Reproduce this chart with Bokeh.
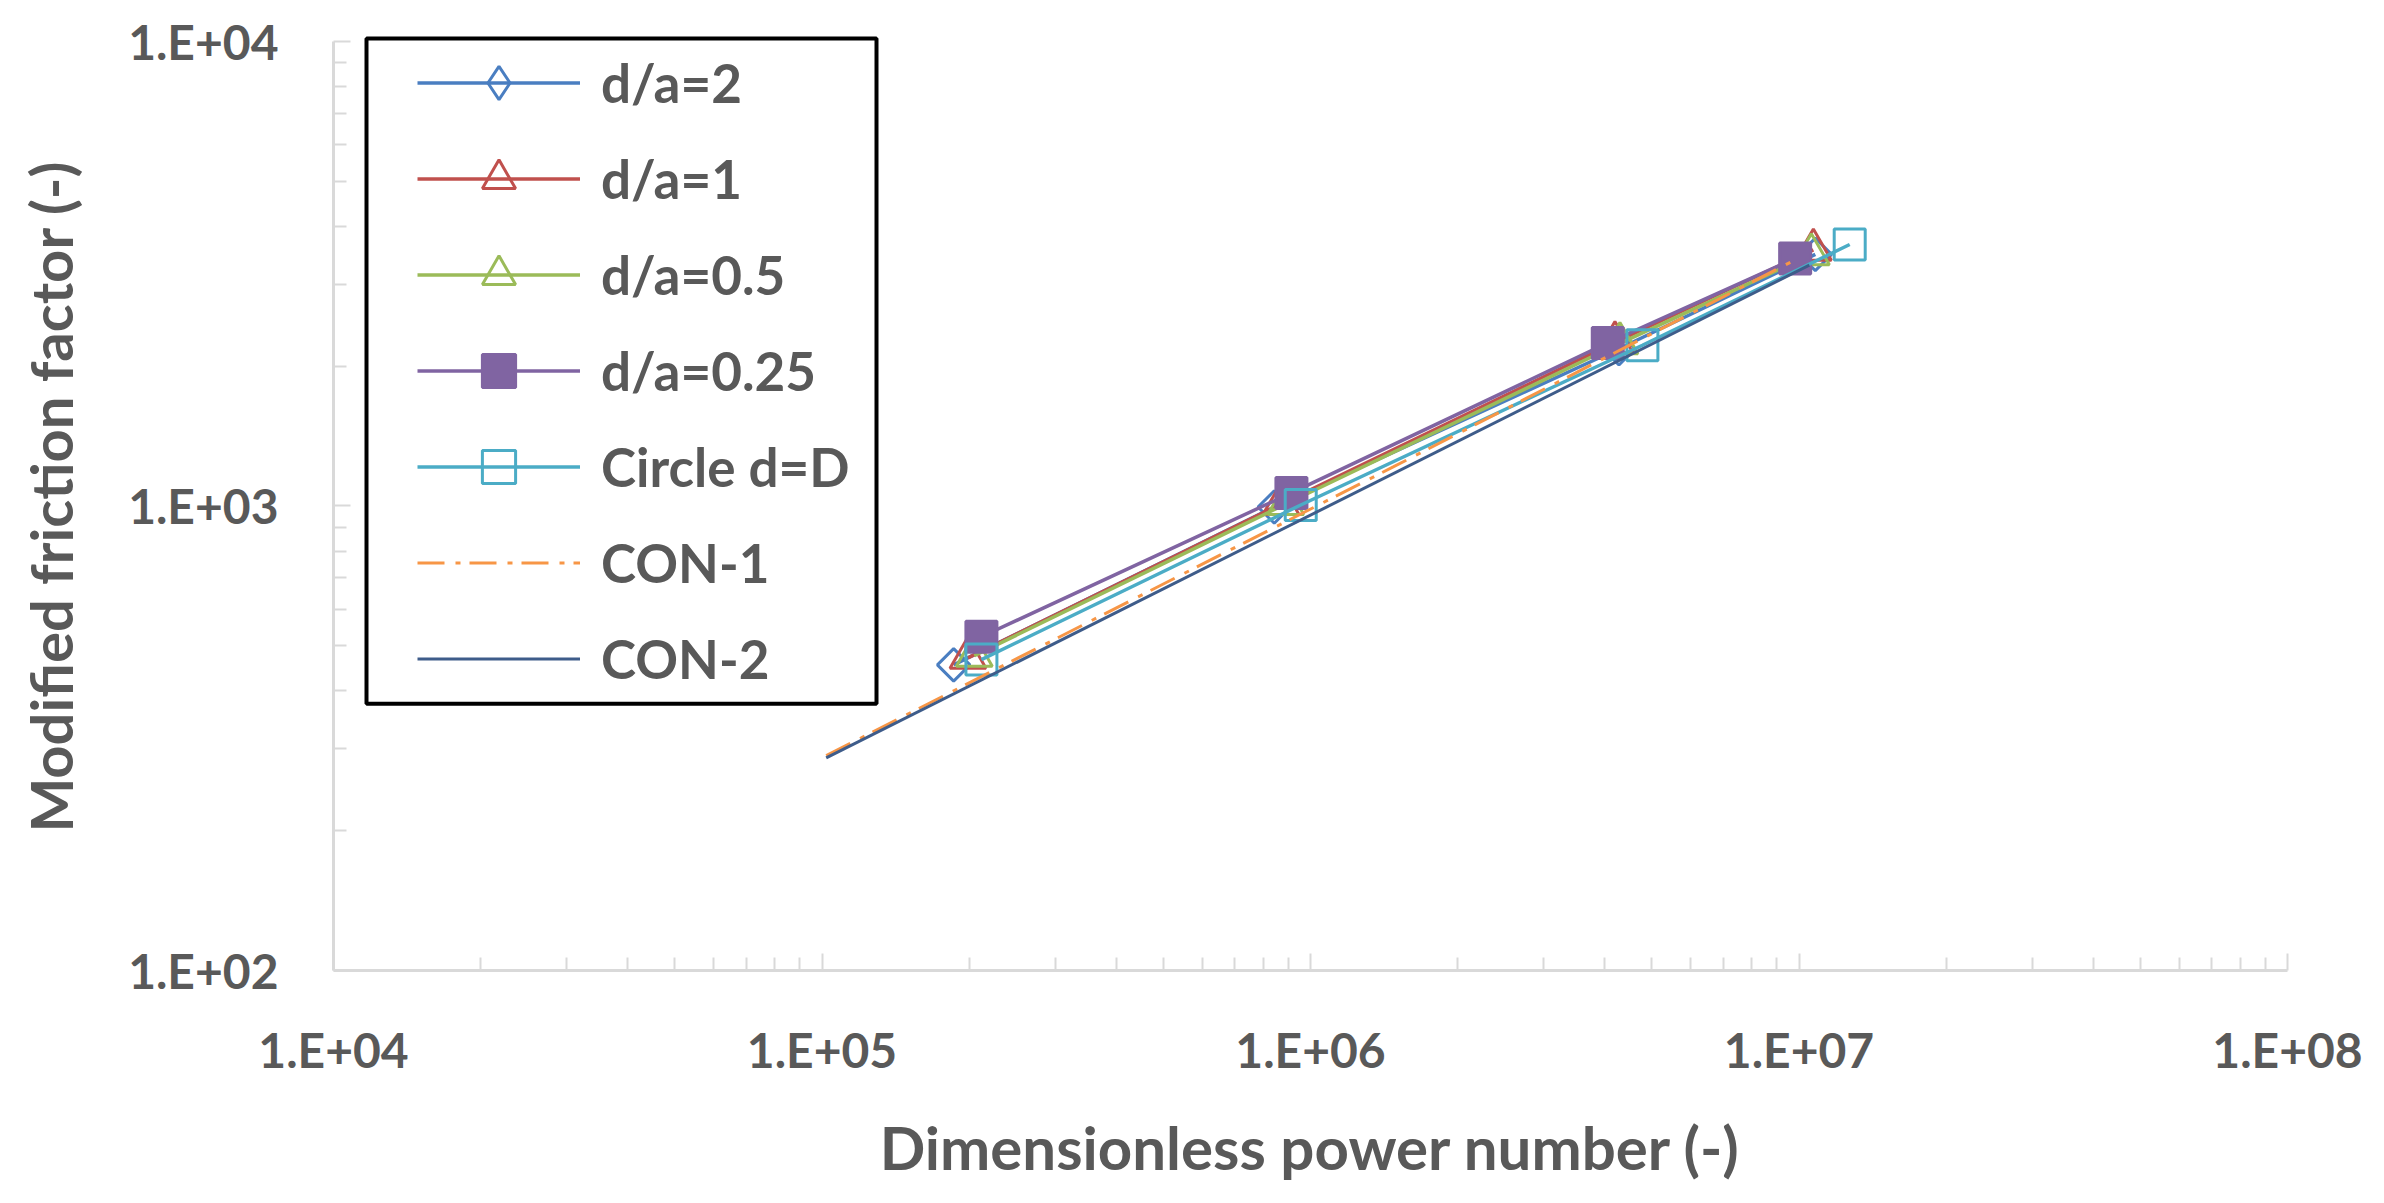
import numpy as np
from bokeh.plotting import figure
from bokeh.models import (FixedTicker, Legend, LegendItem, Range1d, BoxAnnotation)
from bokeh.embed import file_html
from bokeh.resources import INLINE

# ---- data ----
power_da2 = [1.86e5, 8.43e5, 4.28e6, 1.08e7]
f_da2 = [455, 995, 2180, 3480]
power_da1 = [1.99e5, 8.70e5, 4.20e6, 1.07e7]
f_da1 = [471, 1010, 2250, 3560]
power_da05 = [2.05e5, 8.90e5, 4.30e6, 1.06e7]
f_da05 = [476, 1010, 2240, 3480]
power_da025 = [2.12e5, 9.14e5, 4.06e6, 9.82e6]
f_da025 = [523, 1067, 2244, 3412]
power_circle = [2.12e5, 9.55e5, 4.78e6, 1.27e7]
f_circle = [467, 1005, 2218, 3656]
power_con1 = [1.02e5, 1.48e6, 9.70e6]
f_con1 = [290, 1215, 3365]
power_con2 = [1.02e5, 1.05e7]
f_con2 = [287, 3300]

x_ticks = [1e4, 1e5, 1e6, 1e7, 1e8]
x_tick_labels = ["1.E+04", "1.E+05", "1.E+06", "1.E+07", "1.E+08"]
y_ticks = [1e2, 1e3, 1e4]
y_tick_labels = ["1.E+02", "1.E+03", "1.E+04"]

GRAY = "#595959"
FONT = "Lato"

# ---- layout constants (screen px in the figure) ----
W, H = 2368, 1187
FL, FR, FT, FB = 333, 2287, 22, 970      # frame edges
PX_PER_DEC_Y = 465.0
Y1E4 = 41                                # canvas y of 1e4
top_extra = (Y1E4 - FT) / PX_PER_DEC_Y
y_end = 10 ** (4 + top_extra)

p = figure(width=W, height=H, x_axis_type="log", y_axis_type="log",
           x_range=Range1d(1e4, 1e8), y_range=Range1d(1e2, y_end),
           output_backend="svg", toolbar_location=None,
           min_border_left=FL, min_border_right=W - FR,
           min_border_top=FT, min_border_bottom=H - FB)
p.outline_line_color = None
p.xgrid.visible = False
p.ygrid.visible = False

minor_x = [m * 10**e for e in range(4, 8) for m in range(2, 10)]
minor_y = [m * 10**e for e in range(2, 4) for m in range(2, 10)]

xa = p.xaxis[0]
xa.ticker = FixedTicker(ticks=x_ticks, minor_ticks=minor_x)
xa.major_label_overrides = {t: l for t, l in zip(x_ticks, x_tick_labels)}
ya = p.yaxis[0]
ya.ticker = FixedTicker(ticks=y_ticks, minor_ticks=minor_y)
ya.major_label_overrides = {t: l for t, l in zip(y_ticks, y_tick_labels)}
ya.bounds = (1e2, 1e4)

for ax in (xa, ya):
    ax.axis_line_color = "#D9D9D9"
    ax.axis_line_width = 3
    ax.major_tick_line_color = "#D9D9D9"
    ax.minor_tick_line_color = "#D9D9D9"
    ax.major_tick_line_width = 2
    ax.minor_tick_line_width = 2
    ax.major_tick_in = 17
    ax.major_tick_out = 0
    ax.minor_tick_in = 13
    ax.minor_tick_out = 0
    ax.major_label_text_font = FONT
    ax.major_label_text_font_style = "bold"
    ax.major_label_text_color = GRAY
    ax.major_label_text_font_size = "48px"
    ax.axis_label_text_font = FONT
    ax.axis_label_text_font_style = "bold"
    ax.axis_label_text_color = GRAY

xa.axis_label = "Dimensionless power number (-)"
ya.axis_label = "Modified friction factor (-)"
xa.axis_label_text_font_size = "60px"
ya.axis_label_text_font_size = "58px"
xa.major_label_standoff = 50
ya.major_label_standoff = 55
xa.axis_label_standoff = 30
ya.axis_label_standoff = 40

LW = 3.5
items = []

def series(xs, ys, color, marker, label, filled=False, size=32, angle=0.0,
           legend_marker=None):
    ln = p.line(xs, ys, line_color=color, line_width=LW)
    mk = p.scatter(xs, ys, marker=marker, size=size, angle=angle,
                   line_color=color, line_width=3,
                   fill_color=color if filled else None)
    rends = [ln, mk]
    if legend_marker is not None:
        lm = p.scatter(xs, ys, marker=legend_marker, size=size,
                       line_color=color, line_width=3,
                       fill_color=color if filled else None)
        lm.visible = False
        rends = [ln, lm]
    items.append(LegendItem(label=label, renderers=rends))

series(power_da2, f_da2, "#4A7EC1", "square", "d/a=2", size=23,
       angle=np.pi / 4, legend_marker="diamond")
series(power_da1, f_da1, "#C0504D", "triangle", "d/a=1", size=36)
series(power_da05, f_da05, "#9BBB59", "triangle", "d/a=0.5", size=36)
series(power_da025, f_da025, "#8064A2", "square", "d/a=0.25", filled=True, size=31)
series(power_circle, f_circle, "#4BACC6", "square", "Circle d=D", size=31)

l1 = p.line(power_con1, f_con1, line_color="#F79646", line_width=3,
            line_dash="27 11 5 9")
items.append(LegendItem(label="CON-1", renderers=[l1]))
l2 = p.line(power_con2, f_con2, line_color="#3E5C8A", line_width=3)
items.append(LegendItem(label="CON-2", renderers=[l2]))

# legend frame (screen px converted to data space)
def sx_to_x(sx):
    return 10 ** (4 + (sx - FL) * 4.0 / (FR - FL))

def sy_to_y(sy):
    return 10 ** (4 - (sy - Y1E4) / PX_PER_DEC_Y)

box = BoxAnnotation(left=sx_to_x(366), right=sx_to_x(876),
                    top=sy_to_y(38), bottom=sy_to_y(704),
                    fill_color="white", fill_alpha=1.0,
                    line_color="black", line_width=4, line_alpha=1.0,
                    level="underlay")
p.add_layout(box)

legend = Legend(items=items, location=(84, 270), orientation="vertical")
legend.border_line_color = None
legend.background_fill_alpha = 0.0
legend.label_text_font = FONT
legend.label_text_color = GRAY
legend.label_text_font_style = "bold"
legend.label_text_font_size = "53px"
legend.glyph_width = 163
legend.glyph_height = 83
legend.label_standoff = 21
legend.padding = 0
legend.spacing = 13
legend.margin = 0
p.add_layout(legend, "center")

open("out.html", "w").write(file_html(p, INLINE))
